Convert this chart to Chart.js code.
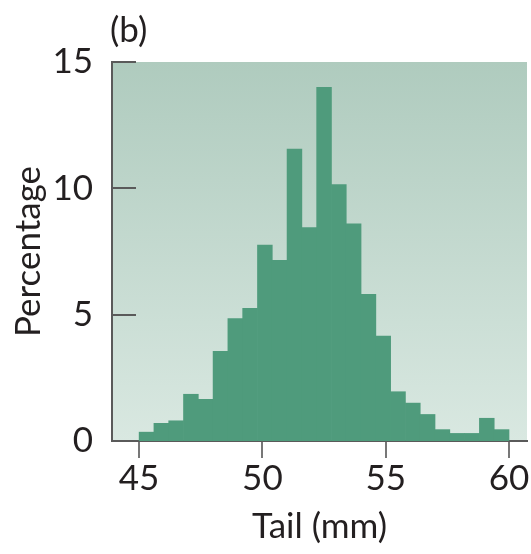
<!DOCTYPE html>
<html>
<head>
<meta charset="utf-8">
<script src="https://cdn.jsdelivr.net/npm/chart.js@4.4.1/dist/chart.umd.min.js"></script>
<style>
  html, body { margin: 0; padding: 0; background: #fff; }
  #wrap { width: 531px; height: 554px; }
</style>
</head>
<body>
<div id="wrap"><canvas id="canvas" width="531" height="554"></canvas></div>
<script>
// Tâm các khoảng (mm), mỗi cột rộng 0.6 mm
const binCenters = [45.3, 45.9, 46.5, 47.1, 47.7, 48.3, 48.9, 49.5, 50.1, 50.7,
                    51.3, 51.9, 52.5, 53.1, 53.7, 54.3, 54.9, 55.5, 56.1, 56.7,
                    57.3, 57.9, 58.5, 59.1, 59.7]
// Phần trăm
const percents = [0.35, 0.7, 0.8, 1.85, 1.65, 3.55, 4.85, 5.25, 7.75, 7.15,
                  11.55, 8.45, 14.0, 10.15, 8.6, 5.8, 4.15, 1.95, 1.5, 1.05,
                  0.45, 0.3, 0.3, 0.9, 0.45]
const xTicks = [45, 50, 55, 60]
const yTicks = [0, 5, 10, 15]

const FONT = 'Lato, "Open Sans", sans-serif'
const FSIZE = 35
const TEXT = '#231f20'
const AXIS = '#5a5a5a'

// Nền chuyển màu cho vùng biểu đồ
const bgPlugin = {
  id: 'bg',
  beforeDraw(chart) {
    const { ctx, chartArea: a } = chart
    const g = ctx.createLinearGradient(0, a.top, 0, a.bottom)
    g.addColorStop(0, '#afcbbe')
    g.addColorStop(1, '#d9e8e1')
    ctx.save()
    ctx.fillStyle = g
    ctx.fillRect(a.left, a.top, a.right - a.left, a.bottom - a.top)
    ctx.restore()
  },
  afterDraw(chart) {
    const { ctx, chartArea: a } = chart
    const y = chart.scales.y
    ctx.save()
    // vạch chia trục y hướng vào trong
    ctx.strokeStyle = AXIS
    ctx.lineWidth = 2
    yTicks.forEach(v => {
      const py = Math.round(y.getPixelForValue(v))
      ctx.beginPath()
      ctx.moveTo(a.left, py)
      ctx.lineTo(a.left + 24, py)
      ctx.stroke()
    })
    // nhãn (b)
    ctx.fillStyle = TEXT
    ctx.font = FSIZE + 'px ' + FONT
    ctx.textBaseline = 'alphabetic'
    ctx.fillText('(b)', a.left - 2, 42)
    ctx.restore()
  }
}

const data = {
  datasets: [{
    label: 'Tail',
    data: binCenters.map((x, i) => ({ x: x, y: percents[i] })),
    backgroundColor: '#4f9b7c',
    borderWidth: 0,
    barPercentage: 1,
    categoryPercentage: 1,
  }]
}

const config = {
  type: 'bar',
  data: data,
  options: {
    responsive: false,
    animation: false,
    layout: { padding: { top: 62, right: 4, left: 0, bottom: 0 } },
    plugins: { legend: { display: false }, tooltip: { enabled: false } },
    scales: {
      x: {
        type: 'linear',
        offset: false,
        min: 43.9,
        max: 60.73,
        afterBuildTicks: s => { s.ticks = xTicks.map(v => ({ value: v })) },
        afterFit: s => { s.height = 113 },
        grid: { offset: false, drawOnChartArea: false, drawTicks: true, tickLength: 17, color: '#777', lineWidth: 2 },
        border: { display: true, color: AXIS, width: 2 },
        ticks: { color: TEXT, font: { family: FONT, size: FSIZE }, padding: 0, maxRotation: 0 },
        title: { display: true, text: 'Tail (mm)', color: TEXT, font: { family: FONT, size: FSIZE }, padding: { top: 0, bottom: 6 } }
      },
      y: {
        min: 0,
        max: 15,
        afterBuildTicks: s => { s.ticks = yTicks.map(v => ({ value: v })) },
        afterFit: s => { s.width = 112 },
        grid: { display: false },
        border: { display: true, color: AXIS, width: 2 },
        ticks: { color: TEXT, font: { family: FONT, size: FSIZE }, padding: 11 },
        title: { display: true, text: 'Percentage', color: TEXT, font: { family: FONT, size: FSIZE }, padding: { top: 8, bottom: 0 } }
      }
    }
  },
  plugins: [bgPlugin]
}

const canvas = document.getElementById('canvas')
const chart = new Chart(canvas, config)
</script>
</body>
</html>
